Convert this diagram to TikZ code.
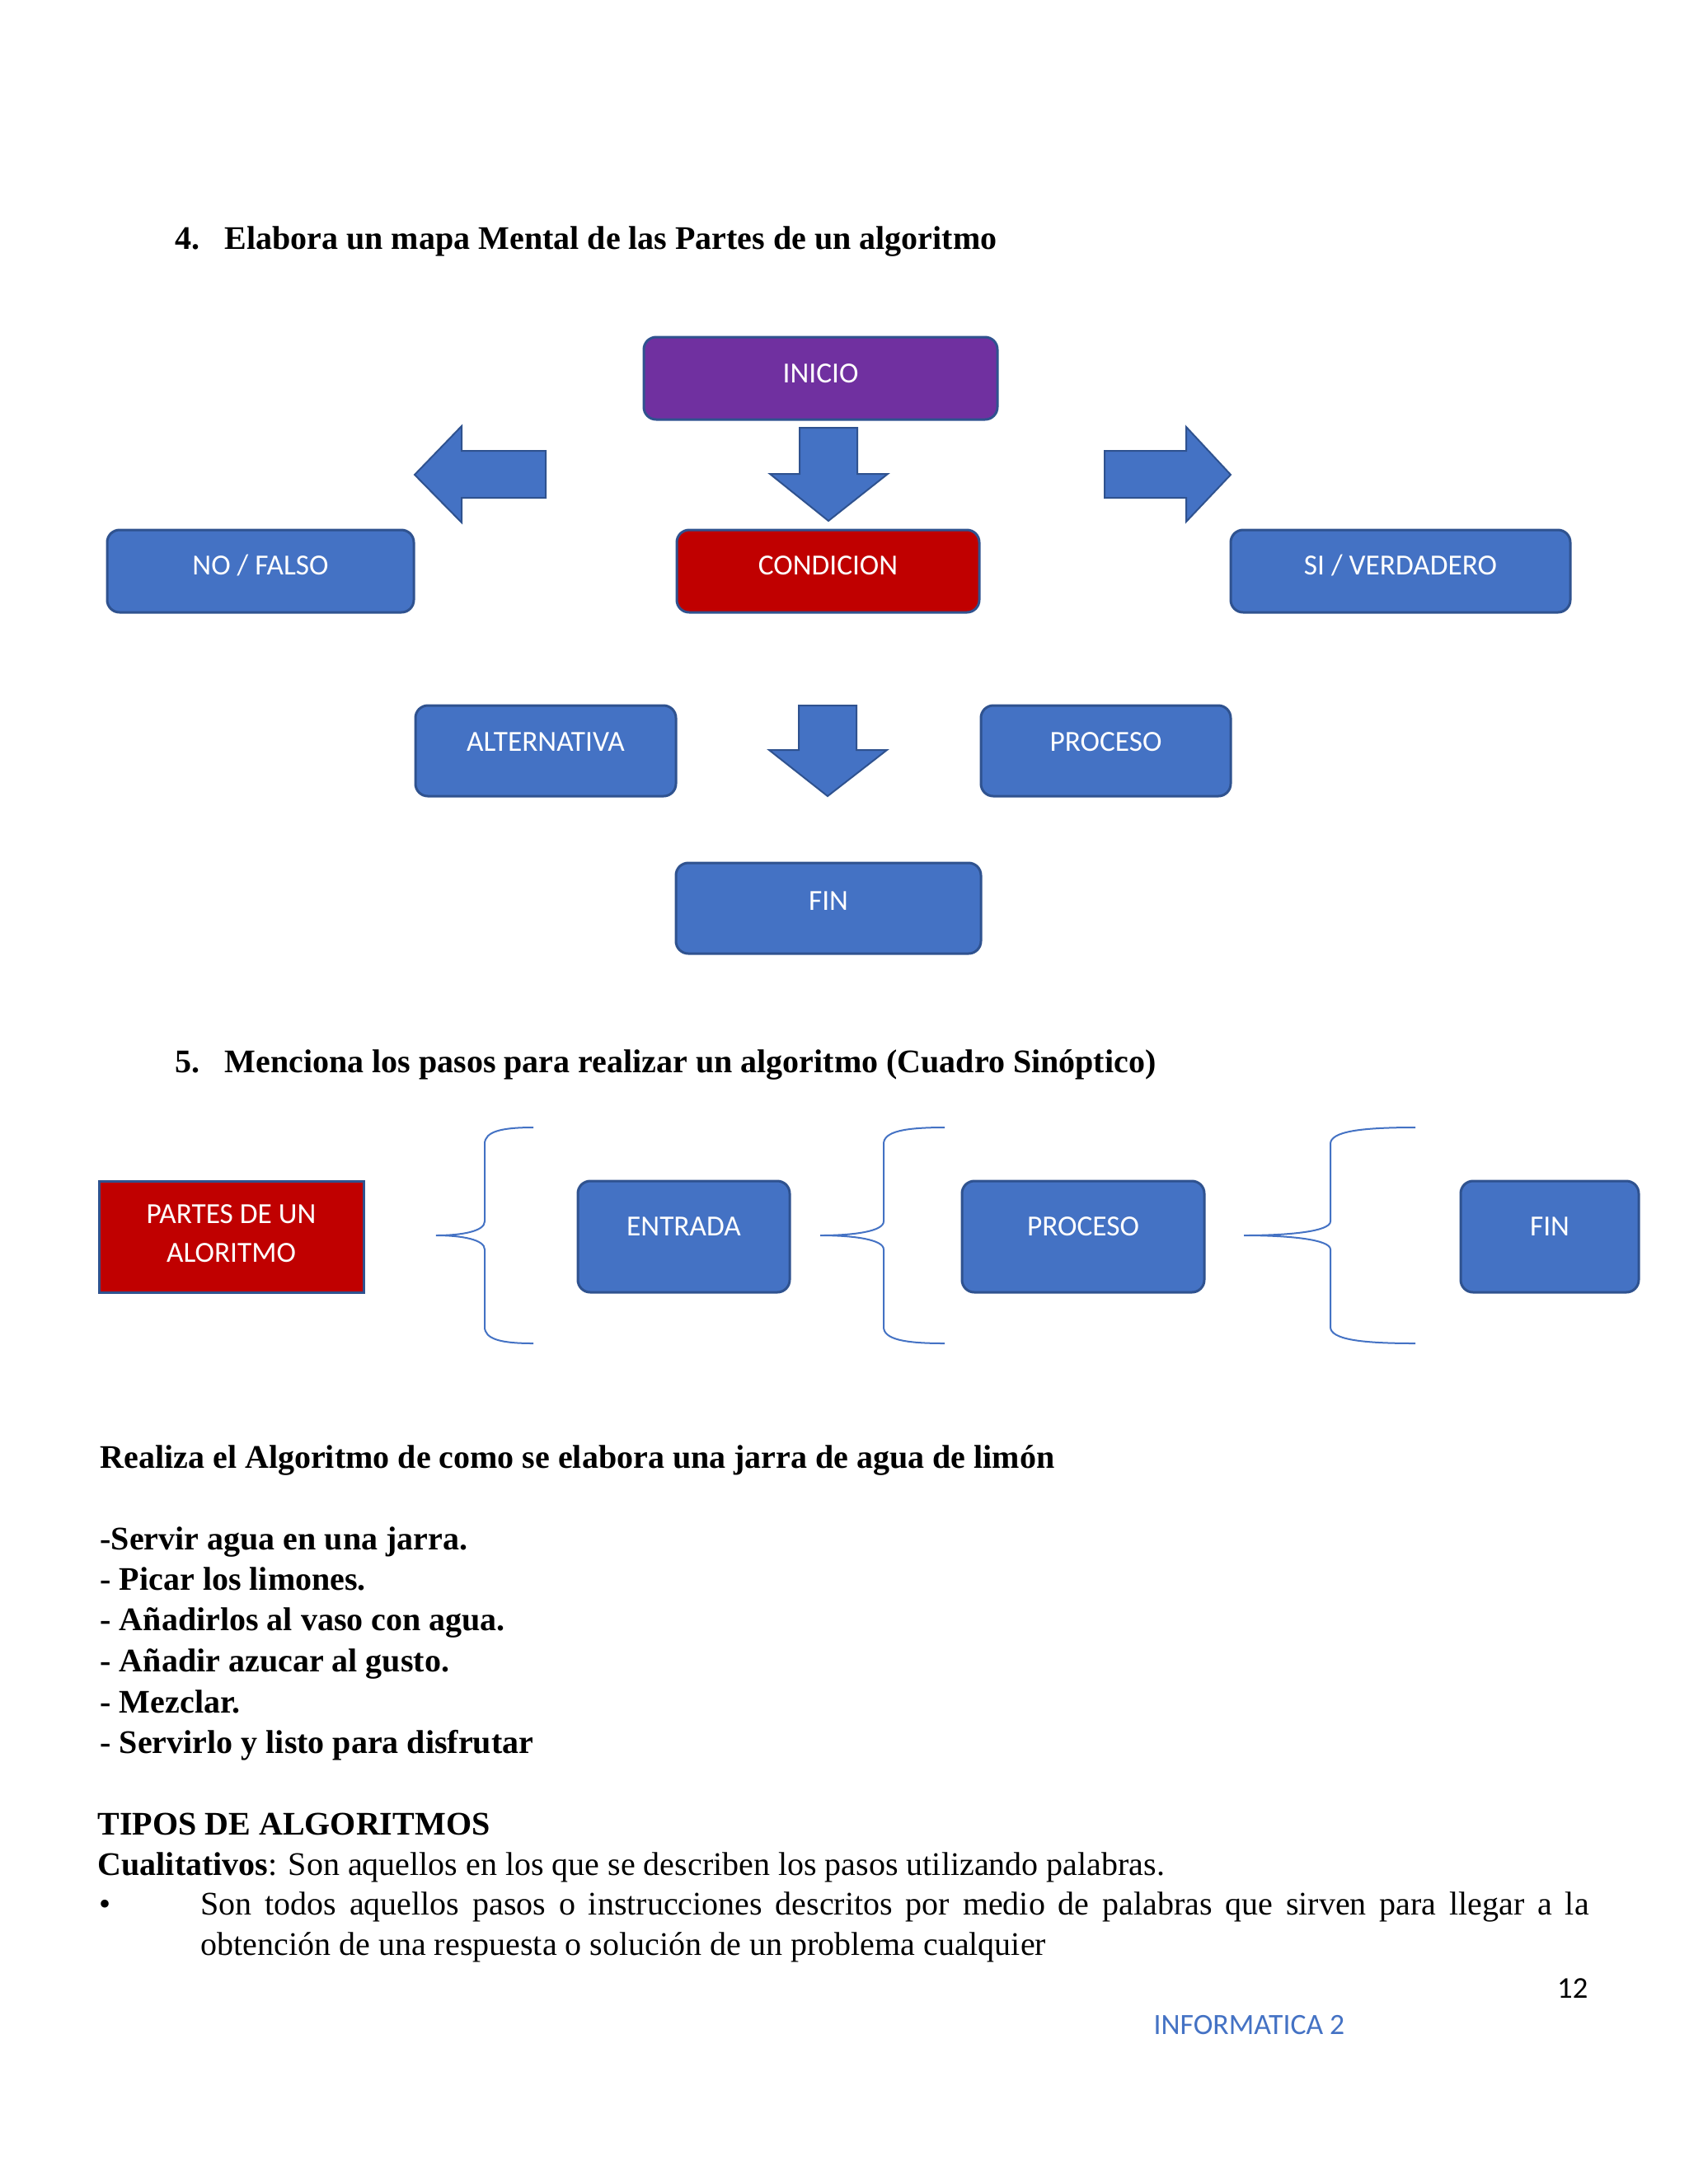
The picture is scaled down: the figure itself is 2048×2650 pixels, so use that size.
\documentclass[tikz,border=0pt]{standalone}
\usepackage{fontspec}
\setmainfont{Liberation Serif}
\newfontfamily\calfont{Carlito}
\usetikzlibrary{calc}
\newdimen\pxu \pxu=0.10542mm
\definecolor{boxblue}{HTML}{4472C4}
\definecolor{borderblue}{HTML}{2F528F}
\definecolor{boxpurple}{HTML}{7030A0}
\definecolor{boxred}{HTML}{C00000}
\begin{document}
\begin{tikzpicture}[x=0.10542mm,y=-0.10542mm,
  box/.style={draw=borderblue, line width=0.9pt, rounded corners=4.5pt, inner sep=0pt, outer sep=0pt},
  bluebox/.style={box, fill=boxblue},
  purplebox/.style={box, fill=boxpurple},
  redbox/.style={box, fill=boxred},
  boxtext/.style={font=\calfont\fontsize{10.6}{12.7}\selectfont, text=white, inner sep=0pt, anchor=base},
  serif/.style={font=\fontsize{12}{14.7}\selectfont, inner sep=0pt, anchor=base west},
  serifbold/.style={serif, font=\fontsize{12}{14.7}\selectfont\bfseries},
  blockarrow/.style={fill=boxblue, draw=borderblue, line width=0.6pt, line join=miter},
  bracestyle/.style={draw=boxblue, line width=0.6pt}]

\fill[white] (0,0) rectangle (2048,2650);
\useasboundingbox (0,0) rectangle (2048,2650);

% ---------- Section 4 ----------
\node[serifbold] (num4) at (212,302) {4.};
\node[serifbold] (title4) at (272,302) {Elabora un mapa Mental de las Partes de un algoritmo};

\node[purplebox, minimum width=429*\pxu, minimum height=100*\pxu] (inicio) at (995.5,459) {};
\node[boxtext] (tinicio) at ($(inicio.center)+(0,5)$) {INICIO};

\node[bluebox, minimum width=372*\pxu, minimum height=100*\pxu] (nofalso) at (316,693) {};
\node[boxtext] (tnofalso) at ($(nofalso.center)+(0,4)$) {NO / FALSO};

\node[redbox, minimum width=367*\pxu, minimum height=100*\pxu] (condicion) at (1004.5,693) {};
\node[boxtext] (tcondicion) at ($(condicion.center)+(0,4)$) {CONDICION};

\node[bluebox, minimum width=412*\pxu, minimum height=100*\pxu] (siverd) at (1699,693) {};
\node[boxtext] (tsiverd) at ($(siverd.center)+(0,4)$) {SI / VERDADERO};

\node[bluebox, minimum width=316*\pxu, minimum height=110*\pxu] (alternativa) at (662,911) {};
\node[boxtext] (talternativa) at ($(alternativa.center)+(0,0)$) {ALTERNATIVA};

\node[bluebox, minimum width=303*\pxu, minimum height=110*\pxu] (procesoa) at (1341.5,911) {};
\node[boxtext] (tprocesoa) at ($(procesoa.center)+(0,0)$) {PROCESO};

\node[bluebox, minimum width=370*\pxu, minimum height=110*\pxu] (fina) at (1005,1102) {};
\node[boxtext] (tfina) at ($(fina.center)+(0,2)$) {FIN};

% block arrows
\draw[blockarrow] (970,519) -- (1040,519) -- (1040,575) -- (1077,575) -- (1005,632) -- (934,575) -- (970,575) -- cycle;
\draw[blockarrow] (969,856) -- (1039,856) -- (1039,910) -- (1076,910) -- (1004,966) -- (933,910) -- (969,910) -- cycle;
\draw[blockarrow] (662,547) -- (560,547) -- (560,517) -- (503,576) -- (560,634) -- (560,604) -- (662,604) -- cycle;
\draw[blockarrow] (1340,547) -- (1439,547) -- (1439,518) -- (1493,576) -- (1439,633) -- (1439,604) -- (1340,604) -- cycle;

% ---------- Section 5 ----------
\node[serifbold] (num5) at (212,1301) {5.};
\node[serifbold] (title5) at (272,1301) {Menciona los pasos para realizar un algoritmo (Cuadro Sinóptico)};

\node[draw=borderblue, line width=0.9pt, fill=boxred, inner sep=0pt, minimum width=321*\pxu, minimum height=135*\pxu] (partes) at (280.5,1500.5) {};
\node[boxtext] (tpartesa) at (280.5,1484) {PARTES DE UN};
\node[boxtext] (tpartesb) at (280.5,1531) {ALORITMO};

\node[bluebox, minimum width=257*\pxu, minimum height=135*\pxu] (entrada) at (829.5,1500.5) {};
\node[boxtext] (tentrada) at ($(entrada.center)+(0,-1)$) {ENTRADA};

\node[bluebox, minimum width=294*\pxu, minimum height=135*\pxu] (procesob) at (1314,1500.5) {};
\node[boxtext] (tprocesob) at ($(procesob.center)+(0,-1)$) {PROCESO};

\node[bluebox, minimum width=216*\pxu, minimum height=135*\pxu] (finb) at (1880,1500.5) {};
\node[boxtext] (tfinb) at ($(finb.center)+(0,-1)$) {FIN};

% braces
\draw[bracestyle] (647,1368) .. controls (608,1368) and (588,1373) .. (588,1388)
  -- (588,1482) .. controls (588,1494) and (560,1499) .. (529,1499)
  .. controls (560,1499) and (588,1504) .. (588,1516)
  -- (588,1610) .. controls (588,1625) and (608,1630) .. (647,1630);
\draw[bracestyle] (1146,1368) .. controls (1097,1368) and (1072,1373) .. (1072,1388)
  -- (1072,1482) .. controls (1072,1494) and (1036,1499) .. (995,1499)
  .. controls (1036,1499) and (1072,1504) .. (1072,1516)
  -- (1072,1610) .. controls (1072,1625) and (1097,1630) .. (1146,1630);
\draw[bracestyle] (1717,1368) .. controls (1650,1368) and (1614,1373) .. (1614,1388)
  -- (1614,1482) .. controls (1614,1494) and (1565,1499) .. (1509,1499)
  .. controls (1565,1499) and (1614,1504) .. (1614,1516)
  -- (1614,1610) .. controls (1614,1625) and (1650,1630) .. (1717,1630);

% ---------- Lemon water ----------
\node[serifbold] (realiza) at (121,1781) {Realiza el Algoritmo de como se elabora una jarra de agua de limón};
\node[serifbold] (stepa) at (121,1880) {-Servir agua en una jarra.};
\node[serifbold] (stepb) at (121,1929) {- Picar los limones.};
\node[serifbold] (stepc) at (121,1978) {- Añadirlos al vaso con agua.};
\node[serifbold] (stepd) at (121,2028) {- Añadir azucar al gusto.};
\node[serifbold] (stepe) at (121,2078) {- Mezclar.};
\node[serifbold] (stepf) at (121,2127) {- Servirlo y listo para disfrutar};

% ---------- Tipos ----------
\node[serifbold] (tipos) at (118,2226) {TIPOS DE ALGORITMOS};
\node[serif] (cualit) at (118,2275) {\textbf{Cualitativos}: Son aquellos en los que se describen los pasos utilizando palabras.};
\node[serif] (bullet) at (120,2323) {•};
\node[serif] (linea) at (243,2323) {\makebox[1684\pxu][s]{Son todos aquellos pasos o instrucciones descritos por medio de palabras que sirven para llegar a la}};
\node[serif] (lineb) at (243,2372) {obtención de una respuesta o solución de un problema cualquier};

\node[font=\calfont\fontsize{11}{13}\selectfont, inner sep=0pt, anchor=base east] (pagenum) at (1927,2424) {12};
\node[font=\calfont\fontsize{10.7}{13}\selectfont, text=boxblue, inner sep=0pt, anchor=base west] (footer) at (1399,2468) {INFORMATICA 2};
\end{tikzpicture}
\end{document}
